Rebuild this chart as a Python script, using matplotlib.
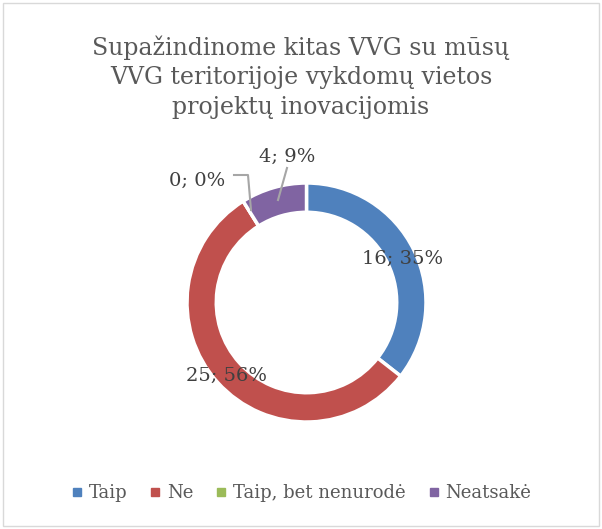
import matplotlib
matplotlib.use("Agg")
import matplotlib.pyplot as plt
from matplotlib.lines import Line2D
from matplotlib.patches import Rectangle

categories = ["Taip", "Ne", "Taip, bet nenurodė", "Neatsakė"]
values = [16, 25, 0, 4]
percents = [35, 56, 0, 9]
colors = ["#4F81BD", "#C0504D", "#9BBB59", "#8064A2"]
title = "Supažindinome kitas VVG su mūsų\nVVG teritorijoje vykdomų vietos\nprojektų inovacijomis"

FONT = ["DejaVu Serif", "Liberation Serif"]
plt.rcParams['font.family'] = FONT

W, H = 602, 529
fig = plt.figure(figsize=(W / 100, H / 100), dpi=100)
fig.patches.append(Rectangle((3 / W, 3 / H), 1 - 6 / W, 1 - 6 / H, transform=fig.transFigure,
                             fill=False, edgecolor="#D9D9D9", linewidth=1))

cx, cy, R = 306.5, 302.5, 119.5
ax = fig.add_axes([(cx - R) / W, (H - cy - R) / H, 2 * R / W, 2 * R / H])
ax.pie(values, colors=colors, startangle=90, counterclock=False, radius=1,
       wedgeprops=dict(width=0.245, edgecolor="white", linewidth=2.5))
ax.set_xlim(-1, 1)
ax.set_ylim(-1, 1)
ax.set_aspect("equal")
ax.axis("off")

def d(px, py):
    return ((px - cx) / R, (cy - py) / R)

labels = [f"{v}; {p}%" for v, p in zip(values, percents)]
lab_pos = [d(403, 259), d(227, 376), d(197, 181), d(287, 157)]
for lbl, pos in zip(labels, lab_pos):
    ax.text(pos[0], pos[1], lbl, ha="center", va="center", fontsize=14,
            color="#404040", clip_on=False)

lc = "#A6A6A6"
p = [d(234, 175), d(248, 175), d(251, 210)]
ax.plot([q[0] for q in p], [q[1] for q in p], color=lc, lw=1.5, clip_on=False)
p = [d(287, 168), d(278, 200)]
ax.plot([q[0] for q in p], [q[1] for q in p], color=lc, lw=1.5, clip_on=False)

fig.text(0.5, 1 - 77 / H, title, ha="center", va="center", fontsize=17,
         color="#595959", linespacing=1.35)

handles = [Line2D([], [], marker="s", linestyle="none", markersize=6,
                  markerfacecolor=c, markeredgecolor=c) for c in colors]
fig.legend(handles, categories, loc="center", bbox_to_anchor=(0.5, 1 - 493 / H),
           ncol=4, frameon=False, fontsize=13, handlelength=0.7, handletextpad=0.3,
           columnspacing=1.2, labelcolor="#595959")

fig.savefig("out.png", dpi=100)
